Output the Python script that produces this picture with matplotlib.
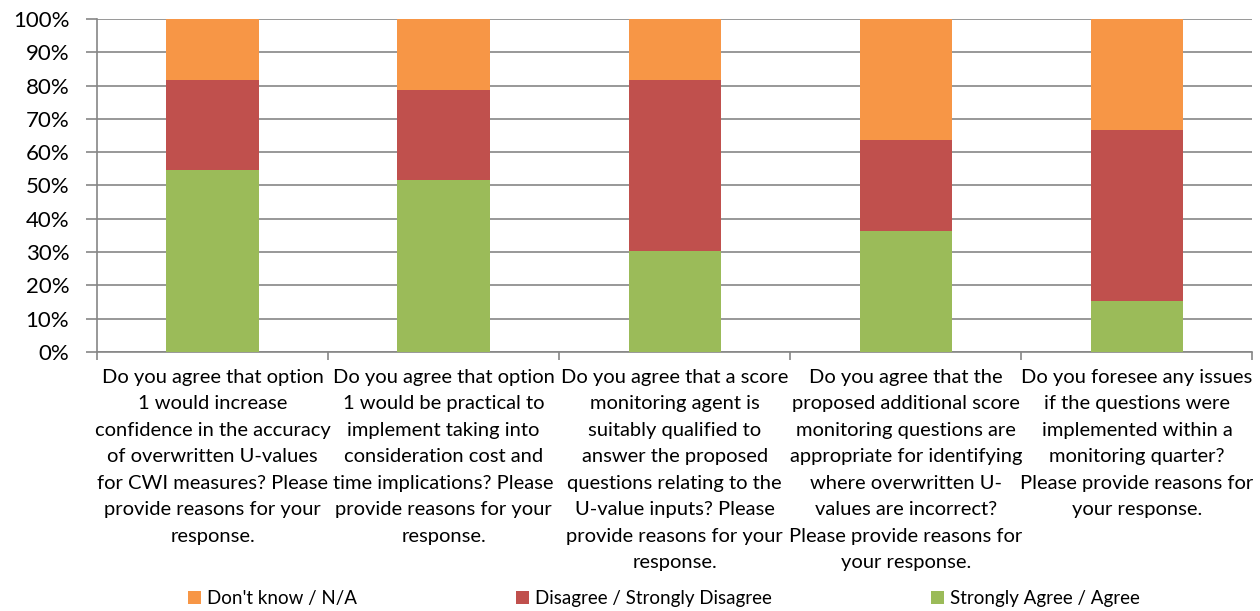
import matplotlib
matplotlib.use("Agg")
import matplotlib.pyplot as plt
import numpy as np
from matplotlib.ticker import PercentFormatter

plt.rcParams['font.family'] = ['Lato', 'DejaVu Sans']

# survey questions (wrapped like the original sheet)
questions = [
    "Do you agree that option\n1 would increase\nconfidence in the accuracy\nof overwritten U-values\nfor CWI measures? Please\nprovide reasons for your\nresponse.",
    "Do you agree that option\n1 would be practical to\nimplement taking into\nconsideration cost and\ntime implications? Please\nprovide reasons for your\nresponse.",
    "Do you agree that a score\nmonitoring agent is\nsuitably qualified to\nanswer the proposed\nquestions relating to the\nU-value inputs? Please\nprovide reasons for your\nresponse.",
    "Do you agree that the\nproposed additional score\nmonitoring questions are\nappropriate for identifying\nwhere overwritten U-\nvalues are incorrect?\nPlease provide reasons for\nyour response.",
    "Do you foresee any issues\nif the questions were\nimplemented within a\nmonitoring quarter?\nPlease provide reasons for\nyour response.",
]

# share of responses (%)
agree = [54.5, 51.5, 30.3, 36.4, 15.2]
disagree = [27.3, 27.3, 51.5, 27.3, 51.5]
dont_know = [18.2, 21.2, 18.2, 36.3, 33.3]

c_agree = "#9bbb59"
c_disagree = "#c0504d"
c_dk = "#f79646"
grid_col = "#868686"

fig = plt.figure(figsize=(12.6, 6.11), dpi=100)
ax = fig.add_axes([0.077, 0.424, 0.917, 0.545])

x = np.arange(len(questions))
w = 0.4
agree = np.array(agree)
disagree = np.array(disagree)
dont_know = np.array(dont_know)

ax.bar(x, agree, w, color=c_agree, label="Strongly Agree / Agree", zorder=3)
ax.bar(x, disagree, w, bottom=agree, color=c_disagree,
       label="Disagree / Strongly Disagree", zorder=3)
ax.bar(x, dont_know, w, bottom=agree + disagree, color=c_dk,
       label="Don't know / N/A", zorder=3)

ax.set_xlim(-0.5, len(questions) - 0.5)
ax.set_ylim(0, 100)
ax.set_yticks(np.arange(0, 101, 10))
ax.yaxis.set_major_formatter(PercentFormatter(decimals=0))
ax.yaxis.grid(True, color=grid_col, linewidth=1.2, zorder=0)

# category labels centred, tick marks at the category boundaries
ax.set_xticks(x)
ax.set_xticklabels(questions, fontsize=14.5, linespacing=1.68)
ax.tick_params(axis='x', length=0, pad=12)
ax.set_xticks(np.arange(-0.5, len(questions)), minor=True)
ax.tick_params(axis='x', which='minor', length=6, color=grid_col, width=1.2)
ax.tick_params(axis='y', length=8, color=grid_col, width=1.2, labelsize=16, pad=12)

for s in ['top', 'right']:
    ax.spines[s].set_visible(False)
for s in ['left', 'bottom']:
    ax.spines[s].set_color(grid_col)
    ax.spines[s].set_linewidth(1.2)

h, l = ax.get_legend_handles_labels()
leg = fig.legend(h[::-1], l[::-1], loc='center', bbox_to_anchor=(0.527, 0.021),
                 ncol=3, frameon=False, fontsize=13.5, handlelength=0.7,
                 handleheight=0.7, handletextpad=0.3, columnspacing=8.5)

fig.savefig("out.png", dpi=100)
